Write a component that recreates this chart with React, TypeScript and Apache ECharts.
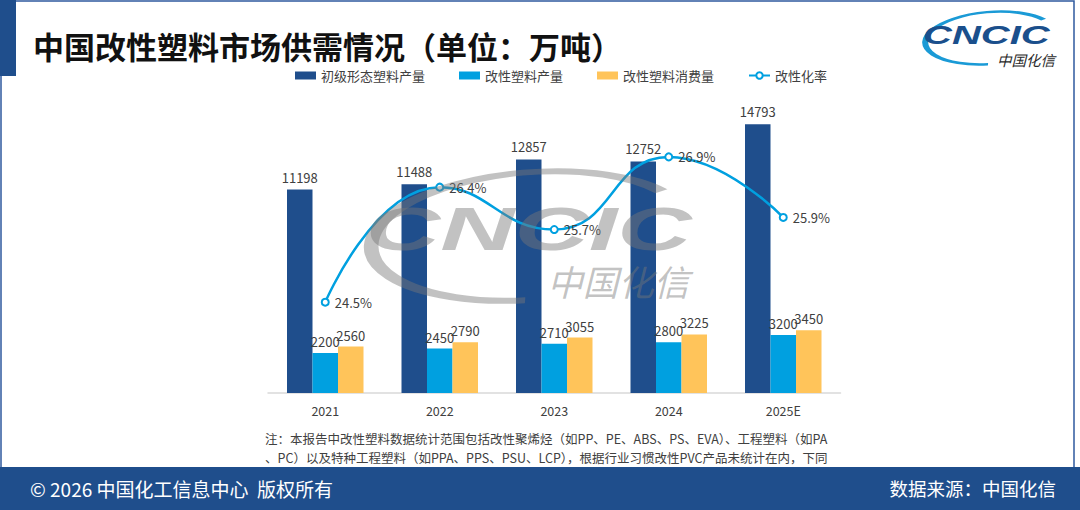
import React, { useEffect, useRef } from 'react';
import * as echarts from 'echarts';

const categories = ['2021', '2022', '2023', '2024', '2025E'];
const primaryOutput = [11198, 11488, 12857, 12752, 14793];
const modifiedOutput = [2200, 2450, 2710, 2800, 3200];
const modifiedConsumption = [2560, 2790, 3055, 3225, 3450];
const modificationRate = [24.5, 26.4, 25.7, 26.9, 25.9];
const seriesNames = ['初级形态塑料产量', '改性塑料产量', '改性塑料消费量', '改性化率'];
const titleText = '中国改性塑料市场供需情况（单位：万吨）';
const noteLines = [
  '注：本报告中改性塑料数据统计范围包括改性聚烯烃（如PP、PE、ABS、PS、EVA）、工程塑料（如PA',
  '、PC）以及特种工程塑料（如PPA、PPS、PSU、LCP），根据行业习惯改性PVC产品未统计在内，下同',
];
const footerLeft = '© 2026 中国化工信息中心  版权所有';
const footerRight = '数据来源：中国化信';
const logoText = 'CNCIC';
const logoSub = '中国化信';

const FONT = "'Noto Sans CJK SC', 'Noto Sans', sans-serif";
const DARK = '#1f4e8c';
const LIGHT = '#00a0e0';
const YELLOW = '#ffc45a';
const TEXT = '#404040';

function logo(cx: number, cy: number, k: number, sx: number, subDy: number, color: string, subColor: string, arcColor: string, z: number) {
  return {
    type: 'group',
    x: cx,
    y: cy,
    z,
    children: [
      {
        type: 'group',
        x: 0,
        y: 0,
        scaleY: 0.4,
        rotation: 0.08,
        z,
        children: [
          {
            type: 'arc',
            z,
            shape: { cx: 0, cy: 0, r: 65 * k, startAngle: Math.PI * 0.52, endAngle: Math.PI * 1.82, clockwise: true },
            style: { stroke: arcColor, lineWidth: 6 * k, fill: 'none' },
          },
        ],
      },
      {
        type: 'text',
        x: -67 * k,
        y: -3 * k,
        scaleX: sx,
        z,
        style: {
          text: logoText,
          font: `italic bold ${25 * k}px 'Liberation Sans', Arial, sans-serif`,
          fill: color,
          textAlign: 'left',
          textVerticalAlign: 'middle',
        },
      },
      {
        type: 'text',
        x: 65 * k,
        y: subDy * k,
        z,
        style: {
          text: logoSub,
          font: `italic ${14.5 * k}px ${FONT}`,
          fill: subColor,
          textAlign: 'right',
          textVerticalAlign: 'middle',
        },
      },
    ],
  };
}

export default function App() {
  const ref = useRef<HTMLDivElement>(null);
  useEffect(() => {
    if (!ref.current) return;
    const chart = echarts.init(ref.current, undefined, { renderer: 'svg' });
    const option: any = {
      animation: false,
      backgroundColor: '#ffffff',
      textStyle: { fontFamily: FONT },
      grid: { left: 268, right: 239.5, top: 102.4, bottom: 117, containLabel: false },
      legend: {
        left: 290,
        top: 64,
        itemWidth: 21,
        itemHeight: 8,
        itemGap: 34,
        textStyle: { color: TEXT, fontSize: 13, fontFamily: FONT },
        data: [
          { name: seriesNames[0], icon: 'rect' },
          { name: seriesNames[1], icon: 'rect' },
          { name: seriesNames[2], icon: 'rect' },
          { name: seriesNames[3] },
        ],
      },
      xAxis: {
        type: 'category',
        data: categories,
        axisLine: { lineStyle: { color: '#d9d9d9', width: 1.5 } },
        axisTick: { show: false },
        axisLabel: { color: TEXT, fontSize: 12.5, margin: 11, fontFamily: FONT },
      },
      yAxis: [
        { type: 'value', min: 0, max: 16000, show: false, splitLine: { show: false } },
        { type: 'value', min: 23, max: 27.8, show: false, splitLine: { show: false } },
      ],
      series: [
        {
          name: seriesNames[0],
          type: 'bar',
          data: primaryOutput,
          barWidth: 25.5,
          barGap: '0%',
          itemStyle: { color: DARK },
          label: { show: true, position: 'top', color: TEXT, fontSize: 13, fontFamily: FONT, distance: 6 },
        },
        {
          name: seriesNames[1],
          type: 'bar',
          data: modifiedOutput,
          barWidth: 25.5,
          barGap: '0%',
          itemStyle: { color: LIGHT },
          label: { show: true, position: 'top', color: TEXT, fontSize: 13, fontFamily: FONT, distance: 5 },
        },
        {
          name: seriesNames[2],
          type: 'bar',
          data: modifiedConsumption,
          barWidth: 25.5,
          barGap: '0%',
          itemStyle: { color: YELLOW },
          label: { show: true, position: 'top', color: TEXT, fontSize: 13, fontFamily: FONT, distance: 5 },
        },
        {
          name: seriesNames[3],
          type: 'line',
          yAxisIndex: 1,
          data: modificationRate,
          smooth: 0.5,
          symbol: 'emptyCircle',
          symbolSize: 7,
          lineStyle: { color: LIGHT, width: 2.5 },
          itemStyle: { color: LIGHT, borderWidth: 1.5 },
          z: 5,
          label: {
            show: true,
            position: 'right',
            distance: 5,
            formatter: '{c}%',
            color: TEXT,
            fontSize: 13,
            fontFamily: FONT,
          },
        },
      ],
      graphic: [
        { type: 'rect', z: 0, shape: { x: 1, y: 1, width: 1073, height: 467 }, style: { fill: 'none', stroke: '#2f5a9e', lineWidth: 1.5 } },
        { type: 'rect', z: 1, shape: { x: 0, y: 0, width: 16, height: 76 }, style: { fill: DARK } },
        { type: 'rect', z: 1, shape: { x: 0, y: 467, width: 1080, height: 43 }, style: { fill: DARK } },
        {
          type: 'text',
          x: 33,
          y: 45,
          style: { text: titleText, font: `bold 31px ${FONT}`, fill: '#111111', textAlign: 'left', textVerticalAlign: 'middle' },
        },
        {
          type: 'text',
          x: 265,
          y: 438,
          style: { text: noteLines[0], font: `12.5px ${FONT}`, fill: TEXT, textAlign: 'left', textVerticalAlign: 'middle' },
        },
        {
          type: 'text',
          x: 265,
          y: 457,
          style: { text: noteLines[1], font: `12.5px ${FONT}`, fill: TEXT, textAlign: 'left', textVerticalAlign: 'middle' },
        },
        {
          type: 'text',
          x: 30,
          y: 488,
          z: 2,
          style: { text: footerLeft, font: `19px ${FONT}`, fill: '#ffffff', textAlign: 'left', textVerticalAlign: 'middle' },
        },
        {
          type: 'text',
          x: 1056,
          y: 488,
          z: 2,
          style: { text: footerRight, font: `18.5px ${FONT}`, fill: '#ffffff', textAlign: 'right', textVerticalAlign: 'middle' },
        },
        logo(990, 38, 1, 1.6, 21, '#1a4f8c', '#2a2a2a', '#1a9ad6', 2),
        logo(530, 236, 2.45, 1.68, 18, 'rgba(120,120,120,0.45)', 'rgba(120,120,120,0.45)', 'rgba(120,120,120,0.45)', 100),
      ],
    };
    chart.setOption(option);
    return () => chart.dispose();
  }, []);
  return <div ref={ref} style={{ position: 'fixed', left: 0, top: 0, width: 1080, height: 510 }} />;
}
